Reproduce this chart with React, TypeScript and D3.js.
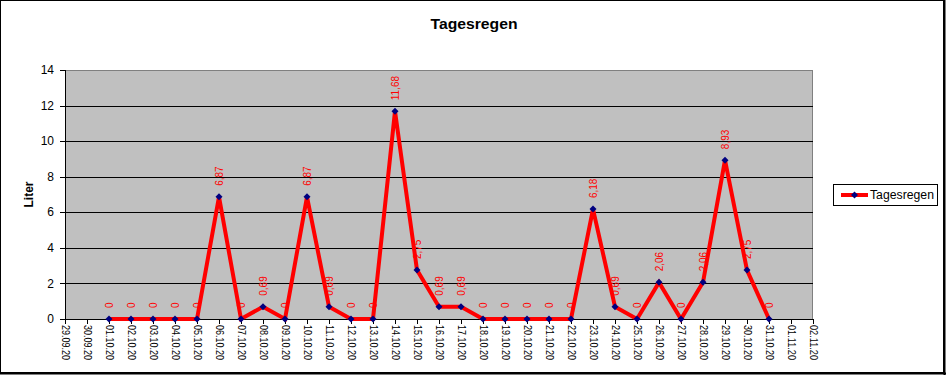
import React from "react";
import * as d3 from "d3";

// Tagesregen Oktober 2020 (Liter)
const days = [
  "2020-10-01", "2020-10-02", "2020-10-03", "2020-10-04", "2020-10-05",
  "2020-10-06", "2020-10-07", "2020-10-08", "2020-10-09", "2020-10-10",
  "2020-10-11", "2020-10-12", "2020-10-13", "2020-10-14", "2020-10-15",
  "2020-10-16", "2020-10-17", "2020-10-18", "2020-10-19", "2020-10-20",
  "2020-10-21", "2020-10-22", "2020-10-23", "2020-10-24", "2020-10-25",
  "2020-10-26", "2020-10-27", "2020-10-28", "2020-10-29", "2020-10-30",
  "2020-10-31",
];
const rain = [
  0, 0, 0, 0, 0, 6.87, 0, 0.69, 0, 6.87,
  0.69, 0, 0, 11.68, 2.75, 0.69, 0.69, 0, 0, 0,
  0, 0, 6.18, 0.69, 0, 2.06, 0, 2.06, 8.93, 2.75,
  0,
];
const yTicks = [0, 2, 4, 6, 8, 10, 12, 14];
const xDomain = ["2020-09-29", "2020-11-02"];

const W = 946;
const H = 375;
const margin = { left: 65, right: 133, top: 70, bottom: 56 };

export default function App() {
  const parse = d3.utcParse("%Y-%m-%d");
  const fmt = d3.utcFormat("%d.%m.%y");
  const deFmt = (v: number) => String(v).replace(".", ",");

  const x = d3
    .scaleUtc()
    .domain(xDomain.map((d) => parse(d) as Date))
    .range([margin.left, W - margin.right]);
  const y = d3
    .scaleLinear()
    .domain([0, 14])
    .range([H - margin.bottom, margin.top]);

  const data = days.map((d, i) => ({ date: parse(d) as Date, v: rain[i] }));
  const xTicks = d3.utcDay.range(x.domain()[0], d3.utcDay.offset(x.domain()[1], 1));

  const line = d3
    .line<{ date: Date; v: number }>()
    .x((d) => x(d.date))
    .y((d) => y(d.v));

  const diamond = (cx: number, cy: number, r: number) =>
    `M${cx},${cy - r}L${cx + r},${cy}L${cx},${cy + r}L${cx - r},${cy}Z`;

  const x0 = margin.left;
  const x1 = W - margin.right;
  const y0 = H - margin.bottom;
  const y1 = margin.top;

  return (
    <svg
      width={W}
      height={H}
      style={{ position: "absolute", left: 0, top: 0, background: "#fff" }}
      fontFamily="Arial, 'Liberation Sans', sans-serif"
    >
      {/* outer frame */}
      <rect x={0.5} y={0.5} width={W - 3} height={H - 3} fill="#fff" stroke="#000" strokeWidth={1} />
      <line x1={W - 1.5} y1={0} x2={W - 1.5} y2={H} stroke="#000" strokeWidth={2} />
      <line x1={0} y1={H - 1.5} x2={W} y2={H - 1.5} stroke="#000" strokeWidth={2} />

      <text
        x={474}
        y={29}
        textAnchor="middle"
        fontSize={15}
        fontWeight="bold"
        textLength={87}
        lengthAdjust="spacingAndGlyphs"
      >
        Tagesregen
      </text>

      {/* plot area */}
      <rect x={x0} y={y1} width={x1 - x0} height={y0 - y1} fill="#c0c0c0" />
      <line x1={x0} y1={y1 + 0.5} x2={x1} y2={y1 + 0.5} stroke="#808080" />
      <line x1={x1 - 0.5} y1={y1} x2={x1 - 0.5} y2={y0} stroke="#808080" />

      {yTicks.filter((t) => t > 0 && t < 14).map((t) => (
        <line key={"g" + t} x1={x0} x2={x1} y1={Math.round(y(t)) + 0.5} y2={Math.round(y(t)) + 0.5} stroke="#000" />
      ))}

      {/* y axis */}
      <line x1={x0 + 0.5} x2={x0 + 0.5} y1={y1} y2={y0} stroke="#000" />
      {yTicks.map((t) => (
        <g key={"y" + t}>
          <line x1={x0 - 5} x2={x0} y1={Math.round(y(t)) + 0.5} y2={Math.round(y(t)) + 0.5} stroke="#000" />
          <text x={x0 - 11} y={y(t)} dy="0.35em" textAnchor="end" fontSize={12}>
            {t}
          </text>
        </g>
      ))}
      <text
        transform={`translate(33,${(y0 + y1) / 2}) rotate(-90)`}
        textAnchor="middle"
        fontSize={12}
        fontWeight="bold"
      >
        Liter
      </text>

      {/* x axis */}
      <line x1={x0} x2={x1} y1={y0 + 0.5} y2={y0 + 0.5} stroke="#000" />
      {xTicks.map((t) => (
        <g key={"x" + t.getTime()}>
          <line x1={Math.round(x(t)) + 0.5} x2={Math.round(x(t)) + 0.5} y1={y0} y2={y0 + 5} stroke="#000" />
          <text
            transform={`translate(${x(t)},${y0 + 6}) rotate(90)`}
            dy="0.35em"
            fontSize={10}
            textLength={35}
            lengthAdjust="spacingAndGlyphs"
          >
            {fmt(t)}
          </text>
        </g>
      ))}

      {/* series */}
      <path d={line(data) ?? ""} fill="none" stroke="#ff0000" strokeWidth={4} strokeLinejoin="miter" />
      {data.map((d, i) => (
        <path key={"m" + i} d={diamond(x(d.date), y(d.v), 3.5)} fill="#000080" />
      ))}
      {data.map((d, i) => (
        <text
          key={"l" + i}
          transform={`translate(${x(d.date)},${y(d.v) - 11}) rotate(-90)`}
          dy="0.35em"
          fontSize={10}
          fill="#ff0000"
        >
          {deFmt(d.v)}
        </text>
      ))}

      {/* legend */}
      <rect x={833.5} y={184.5} width={104} height={21} fill="#fff" stroke="#000" />
      <line x1={841} x2={868} y1={195} y2={195} stroke="#ff0000" strokeWidth={4} />
      <path d={diamond(854.5, 195, 3.5)} fill="#000080" />
      <text x={870} y={195} dy="0.35em" fontSize={12} textLength={64} lengthAdjust="spacingAndGlyphs">
        Tagesregen
      </text>
    </svg>
  );
}
